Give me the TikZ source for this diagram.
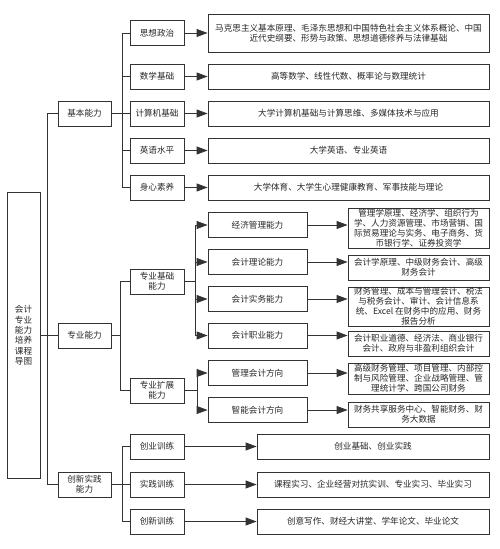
\documentclass[tikz,border=0pt]{standalone}
\usepackage{fontspec}
\setmainfont{Noto Sans CJK SC}
\usetikzlibrary{arrows.meta}
\begin{document}
\begin{tikzpicture}[x=1pt,y=-1pt,
  box/.style={draw=black!80, line width=0.8pt, inner sep=0pt, align=center,
    font=\fontsize{8.6}{10.4}\selectfont, text=black!85},
  lone/.style={box, minimum width=53pt, minimum height=25pt},
  ltwo/.style={box, minimum width=54pt, minimum height=25pt},
  lthree/.style={box, minimum width=99pt, minimum height=25pt},
  dbasic/.style={box, minimum width=281pt, minimum height=25pt},
  dprof/.style={box, minimum width=141pt, minimum height=25pt, font=\fontsize{8.6}{10}\selectfont},
  dinno/.style={box, minimum width=232pt, minimum height=25pt},
  ln/.style={draw=black!80, line width=0.8pt},
  arr/.style={ln, -{Triangle[length=11pt,width=8pt]}},
]
\useasboundingbox (0,0) rectangle (500,549);
% root
\node[box, minimum width=33pt, minimum height=286pt] (root) at (23.5,335.5)
  {会计\\专业\\能力\\培养\\课程\\导图};
% level 1
\node[lone] (jb) at (84.5,113.5) {基本能力};
\node[lone] (zy) at (84.5,335.5) {专业能力};
\node[lone] (cx) at (84.5,484.5) {创新实践\\能力};
% basic level 2
\node[ltwo] (s1) at (157,33) {思想政治};
\node[ltwo] (s2) at (157,76.5) {数学基础};
\node[ltwo] (s3) at (157,113.5) {计算机基础};
\node[ltwo] (s4) at (157,150.5) {英语水平};
\node[ltwo] (s5) at (157,187.5) {身心素养};
% basic descriptions
\node[dbasic, minimum height=38pt] (d1) at (348.5,33)
  {马克思主义基本原理、毛泽东思想和中国特色社会主义体系概论、中国\\近代史纲要、形势与政策、思想道德修养与法律基础};
\node[dbasic] (d2) at (348.5,76.5) {高等数学、线性代数、概率论与数理统计};
\node[dbasic] (d3) at (348.5,113.5) {大学计算机基础与计算思维、多媒体技术与应用};
\node[dbasic] (d4) at (348.5,150.5) {大学英语、专业英语};
\node[dbasic] (d5) at (348.5,187.5) {大学体育、大学生心理健康教育、军事技能与理论};
% professional level 2
\node[ltwo] (zj) at (157,281.5) {专业基础\\能力};
\node[ltwo] (zk) at (157,390.5) {专业扩展\\能力};
% professional level 3
\node[lthree] (t1) at (257.5,225) {经济管理能力};
\node[lthree] (t2) at (257.5,262) {会计理论能力};
\node[lthree] (t3) at (257.5,299) {会计实务能力};
\node[lthree] (t4) at (257.5,335.5) {会计职业能力};
\node[lthree] (t5) at (257.5,373) {管理会计方向};
\node[lthree] (t6) at (257.5,410) {智能会计方向};
% professional descriptions
\node[dprof, minimum height=40pt] (p1) at (418.5,228)
  {管理学原理、经济学、组织行为\\学、人力资源管理、市场营销、国\\际贸易理论与实务、电子商务、货\\币银行学、证券投资学};
\node[dprof] (p2) at (418.5,267.5) {会计学原理、中级财务会计、高级\\财务会计};
\node[dprof, minimum height=39pt] (p3) at (418.5,306.5)
  {财务管理、成本与管理会计、税法\\与税务会计、审计、会计信息系\\统、Excel 在财务中的应用、财务\\报告分析};
\node[dprof] (p4) at (418.5,343.5) {会计职业道德、经济法、商业银行\\会计、政府与非盈利组织会计};
\node[dprof, minimum height=31pt] (p5) at (418.5,378.5)
  {高级财务管理、项目管理、内部控\\制与风险管理、企业战略管理、管\\理统计学、跨国公司财务};
\node[dprof] (p6) at (418.5,414.5) {财务共享服务中心、智能财务、财\\务大数据};
% innovation
\node[ltwo] (c1) at (157,446.5) {创业训练};
\node[ltwo] (c2) at (157,484.5) {实践训练};
\node[ltwo] (c3) at (157,521.5) {创新训练};
\node[dinno] (e1) at (373,446.5) {创业基础、创业实践};
\node[dinno] (e2) at (373,484.5) {课程实习、企业经营对抗实训、专业实习、毕业实习};
\node[dinno] (e3) at (373,521.5) {创意写作、财经大讲堂、学年论文、毕业论文};
% connectors: root to level 1
\coordinate (v1) at (47,0);
\draw[ln] (root.east) -- (zy.west);
\draw[ln] (jb.west) -- (jb.west -| v1) -- (cx.west -| v1) -- (cx.west);
% basic
\draw[ln] (jb.east) -- (s3.west);
\draw[ln] (s1.west) -- ++(-7,0) |- (s5.west);
\draw[ln] (s2.west) -- ++(-7,0);
\draw[ln] (s4.west) -- ++(-7,0);
\foreach \i in {1,...,5} {\draw[arr] (s\i.east) -- (d\i.west);}
% professional
\coordinate (v2) at (120,0);
\draw[ln] (zy.east) -- (zy.east -| v2);
\draw[ln] (zj.west) -- (zj.west -| v2) -- (zk.west -| v2) -- (zk.west);
\coordinate (v3) at (195,0);
\draw[ln] (zj.east) -- (zj.east -| v3);
\draw[ln] (t1.west -| v3) -- (t4.west -| v3);
\foreach \i in {1,...,4} {\draw[arr] (t\i.west -| v3) -- (t\i.west);}
\coordinate (v4) at (197,0);
\draw[ln] (zk.east) -- (zk.east -| v4);
\draw[ln] (t5.west -| v4) -- (t6.west -| v4);
\foreach \i in {5,6} {\draw[arr] (t\i.west -| v4) -- (t\i.west);}
\foreach \i in {1,...,6} {\draw[arr] (t\i.east) -- (t\i.east -| p\i.west);}
% innovation
\draw[ln] (cx.east) -- (c2.west);
\draw[ln] (c1.west) -- ++(-7,0) |- (c3.west);
\foreach \i in {1,2,3} {\draw[arr] (c\i.east) -- (e\i.west);}
\end{tikzpicture}
\end{document}
